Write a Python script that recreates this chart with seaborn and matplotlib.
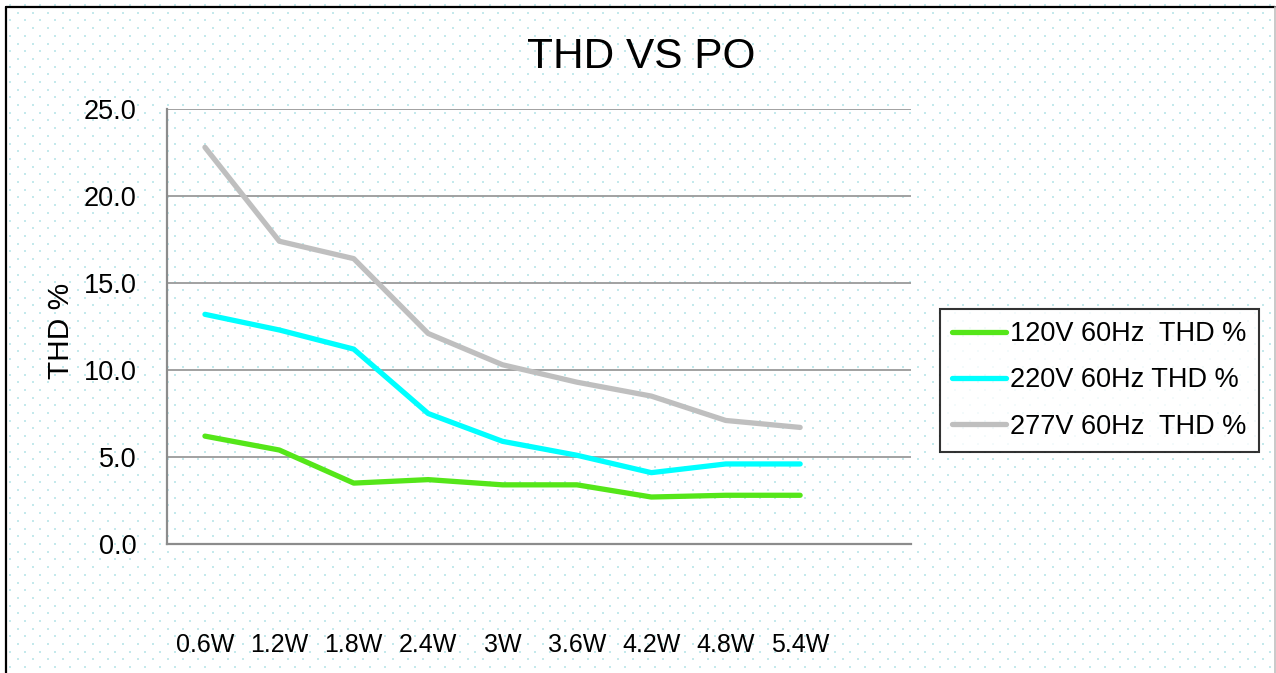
import numpy as np
import pandas as pd
import matplotlib
matplotlib.use("Agg")
import matplotlib.pyplot as plt
from matplotlib.lines import Line2D
import seaborn as sns

# data
power_labels = ["0.6W", "1.2W", "1.8W", "2.4W", "3W", "3.6W", "4.2W", "4.8W", "5.4W"]
thd_120v = [6.2, 5.4, 3.5, 3.7, 3.4, 3.4, 2.7, 2.8, 2.8]
thd_220v = [13.2, 12.3, 11.2, 7.5, 5.9, 5.1, 4.1, 4.6, 4.6]
thd_277v = [22.8, 17.4, 16.4, 12.1, 10.3, 9.3, 8.5, 7.1, 6.7]
series_names = ["120V 60Hz  THD %", "220V 60Hz THD %", "277V 60Hz  THD %"]
y_ticks = [0, 5, 10, 15, 20, 25]

SERIES_COLORS = {"120V 60Hz  THD %": "#55E619",
                 "220V 60Hz THD %": "#00FFFF",
                 "277V 60Hz  THD %": "#BFBFBF"}

frames = []
for name, values in zip(series_names, [thd_120v, thd_220v, thd_277v]):
    frames.append(pd.DataFrame({"Power": power_labels, "THD": values, "Series": name}))
data = pd.concat(frames, ignore_index=True)

sns.set_theme(style="white")
plt.rcParams["font.family"] = ["Liberation Sans", "DejaVu Sans"]
plt.rcParams["text.color"] = "black"
plt.rcParams["axes.labelcolor"] = "black"

W, H = 1276, 673
fig = plt.figure(figsize=(W / 100, H / 100), dpi=100)
fig.patch.set_facecolor("white")

# dotted background pattern, like the Excel chart area fill
bg = fig.add_axes([0, 0, 1, 1], zorder=0)
bg.set_xlim(0, W)
bg.set_ylim(H, 0)
bg.axis("off")
rows = np.arange(5, H, 7.7)
pts_x, pts_y = [], []
for i, yy in enumerate(rows):
    xs = np.arange(10 + (7.5 if i % 2 else 0), W, 15)
    pts_x.extend(xs)
    pts_y.extend([yy] * len(xs))
bg.scatter(pts_x, pts_y, s=1.6, marker="s", color="#c4e9ec", linewidths=0)

# figure frame
fig.add_artist(Line2D([6 / W, 6 / W], [0, 1 - 7 / H], color="black", lw=1.6))
fig.add_artist(Line2D([6 / W, 1275 / W], [1 - 7 / H, 1 - 7 / H], color="black", lw=1.6))
fig.add_artist(Line2D([1275 / W, 1275 / W], [0, 1 - 7 / H], color="#c0c0c0", lw=1.2))

ax = fig.add_axes([167 / W, 1 - 544 / H, (911 - 167) / W, (544 - 109) / H], zorder=1)
ax.set_facecolor("none")

sns.lineplot(data=data, x="Power", y="THD", hue="Series", hue_order=series_names,
             palette=SERIES_COLORS, linewidth=3.8, sort=False, ax=ax)
ax.get_legend().remove()

ax.set_xlim(-0.51, 9.49)
ax.set_ylim(0, 25)
ax.set_yticks(y_ticks)
ax.set_yticklabels(["{:.1f}".format(v) for v in y_ticks])
ax.set_xticks(range(len(power_labels)))
ax.set_xticklabels(power_labels)
ax.tick_params(axis="y", length=0, pad=22, labelsize=19.5, colors="black")
ax.tick_params(axis="x", length=0, pad=64, labelsize=18, colors="black")
ax.grid(axis="y", color="#9a9a9a", linewidth=1.3)
ax.grid(axis="x", visible=False)
for side in ["top", "right"]:
    ax.spines[side].set_visible(False)
for side in ["left", "bottom"]:
    ax.spines[side].set_color("#8c8c8c")
    ax.spines[side].set_linewidth(1.6)

ax.set_xlabel("")
ax.set_ylabel("THD %", fontsize=21.5, color="black")
ax.yaxis.set_label_coords(-0.124, 0.49)

fig.text(641 / W, 1 - 68 / H, "THD VS PO", fontsize=30.5, ha="center", va="baseline",
         color="black")

handles = [Line2D([], [], color=SERIES_COLORS[n], lw=3.8) for n in series_names]
leg = fig.legend(handles, series_names, loc="upper left",
                 bbox_to_anchor=(940 / W, 1 - 309 / H), borderaxespad=0,
                 fontsize=19.5, frameon=True, fancybox=False, edgecolor="black",
                 handlelength=2.0, handletextpad=0.15, labelspacing=0.75, borderpad=0.45)
leg.get_frame().set_linewidth(1.5)
leg.get_frame().set_facecolor("white")
for txt in leg.get_texts():
    txt.set_color("black")

fig.savefig("out.png", dpi=100)
